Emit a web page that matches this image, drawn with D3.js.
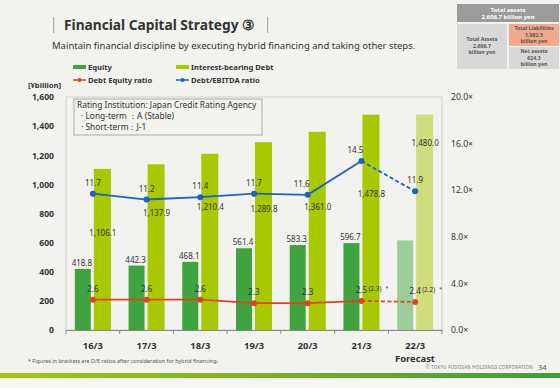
<!DOCTYPE html>
<html>
<head>
<meta charset="utf-8">
<script src="https://cdn.jsdelivr.net/npm/d3@7"></script>
<style>
body { margin: 0; background: #f2f2ee; }
svg { display: block; font-family: "Noto Sans", sans-serif; }
</style>
</head>
<body>
<script>
var categories = ["16/3", "17/3", "18/3", "19/3", "20/3", "21/3", "22/3"];
var equity = [418.8, 442.3, 468.1, 561.4, 583.3, 596.7, 615];
var debt = [1106.1, 1137.9, 1210.4, 1289.8, 1361.0, 1478.8, 1480.0];
var deRatio = [2.6, 2.6, 2.6, 2.3, 2.3, 2.5, 2.4];
var deHybrid = [null, null, null, null, null, 2.3, 2.2];
var ebitdaRatio = [11.7, 11.2, 11.4, 11.7, 11.6, 14.5, 11.9];
var leftTicks = [0, 200, 400, 600, 800, 1000, 1200, 1400, 1600];
var rightTicks = [0, 4, 8, 12, 16, 20];
// where the debt labels sit, in axis units (hand placed in the original)
var debtLabelAt = [665, 802, 843, 829, 843, 932, 1282];

var W = 560, H = 388;
var svg = d3.select("body").append("svg").attr("width", W).attr("height", H);

svg.append("rect").attr("width", W).attr("height", H).attr("fill", "#f2f2ee");
svg.append("rect").attr("y", 378).attr("width", W).attr("height", 10).attr("fill", "#f6f6f3");

// title
svg.append("rect").attr("x", 53).attr("y", 17).attr("width", 1.2).attr("height", 16).attr("fill", "#aaa");
svg.append("rect").attr("x", 267).attr("y", 17).attr("width", 1.2).attr("height", 16).attr("fill", "#aaa");
svg.append("text").attr("x", 64).attr("y", 30).attr("fill", "#333").attr("font-size", 13.8)
  .attr("font-weight", "bold").attr("textLength", 191).attr("lengthAdjust", "spacingAndGlyphs")
  .text("Financial Capital Strategy ③");
svg.append("text").attr("x", 52).attr("y", 49).attr("fill", "#333").attr("font-size", 9.5)
  .text("Maintain financial discipline by executing hybrid financing and taking other steps.");

// balance sheet box
var bs = svg.append("g").attr("font-size", 5.2).attr("font-weight", "bold").attr("text-anchor", "middle");
bs.append("rect").attr("x", 457).attr("y", 4).attr("width", 102).attr("height", 18).attr("fill", "#9b9b9b");
bs.append("text").attr("x", 508).attr("y", 11.5).attr("fill", "#fff").attr("font-size", 6).text("Total assets");
bs.append("text").attr("x", 508).attr("y", 19).attr("fill", "#fff").attr("font-size", 6).text("2,606.7 billion yen");
bs.append("rect").attr("x", 457).attr("y", 24).attr("width", 50).attr("height", 45).attr("fill", "#d8d8d8");
bs.append("rect").attr("x", 509).attr("y", 24).attr("width", 50).attr("height", 22).attr("fill", "#f4a98c");
bs.append("rect").attr("x", 509).attr("y", 47).attr("width", 50).attr("height", 22).attr("fill", "#d8d8d8");
[["Total Assets", "2,606.7", "billion yen", 482, 41], ["Total Liabilities", "1,982.5", "billion yen", 534, 30],
 ["Net assets", "624.3", "billion yen", 534, 53]].forEach(function(t) {
  [0, 1, 2].forEach(function(k) {
    bs.append("text").attr("x", t[3]).attr("y", t[4] + k * 6.5).attr("fill", "#555").text(t[k]);
  });
});

// legend
var lg = svg.append("g").attr("font-size", 7.6).attr("font-weight", "bold").attr("fill", "#333");
lg.append("rect").attr("x", 73).attr("y", 65).attr("width", 13).attr("height", 4).attr("fill", "#3fa33f");
lg.append("text").attr("x", 88).attr("y", 70).text("Equity");
lg.append("rect").attr("x", 176).attr("y", 65).attr("width", 13).attr("height", 4).attr("fill", "#a8c800");
lg.append("text").attr("x", 191).attr("y", 70).text("Interest-bearing Debt");
lg.append("line").attr("x1", 73).attr("x2", 86).attr("y1", 80).attr("y2", 80).attr("stroke", "#e2431c").attr("stroke-width", 1.5);
lg.append("circle").attr("cx", 79.5).attr("cy", 80).attr("r", 2).attr("fill", "#e2431c");
lg.append("text").attr("x", 88).attr("y", 83).text("Debt Equity ratio");
lg.append("line").attr("x1", 176).attr("x2", 189).attr("y1", 80).attr("y2", 80).attr("stroke", "#1a62c4").attr("stroke-width", 1.5);
lg.append("circle").attr("cx", 182.5).attr("cy", 80).attr("r", 2).attr("fill", "#1a62c4");
lg.append("text").attr("x", 191).attr("y", 83).text("Debt/EBITDA ratio");

// scales
var x = d3.scaleBand().domain(categories).range([66, 442]);
var y = d3.scaleLinear().domain([0, 1600]).range([330, 97]);
var y2 = d3.scaleLinear().domain([0, 20]).range([330, 97]);
var cx = function(i) { return x(categories[i]) + x.bandwidth() / 2; };
var last = categories.length - 1;

// frame
svg.append("rect").attr("x", 66).attr("y", 97).attr("width", 376).attr("height", 233)
  .attr("fill", "none").attr("stroke", "#cfcfcb").attr("stroke-width", 1);

// axes
var leftAxis = svg.append("g").attr("transform", "translate(66,0)")
  .call(d3.axisLeft(y).tickValues(leftTicks).tickSize(0).tickPadding(12).tickFormat(d3.format(",")));
leftAxis.select(".domain").remove();
leftAxis.selectAll("text").attr("font-size", 8.6).attr("font-weight", "bold").attr("fill", "#333")
  .attr("font-family", "Noto Sans");

var rightAxis = svg.append("g").attr("transform", "translate(442,0)")
  .call(d3.axisRight(y2).tickValues(rightTicks).tickSize(0).tickPadding(9)
    .tickFormat(function(d) { return d3.format(".1f")(d) + "×"; }));
rightAxis.select(".domain").remove();
rightAxis.selectAll("text").attr("font-size", 8.6).attr("fill", "#333").attr("font-family", "Noto Sans");

var bottomAxis = svg.append("g").attr("transform", "translate(0,330)")
  .call(d3.axisBottom(x).tickSize(0).tickPadding(12));
bottomAxis.select(".domain").attr("stroke", "#888");
bottomAxis.selectAll("text").attr("font-size", 9.4).attr("font-weight", "bold").attr("fill", "#333")
  .attr("font-family", "Noto Sans");
svg.append("g").selectAll("line").data(categories).enter().append("line")
  .attr("x1", function(d) { return x(d); }).attr("x2", function(d) { return x(d); })
  .attr("y1", 330).attr("y2", 334).attr("stroke", "#888");
svg.append("line").attr("x1", 442).attr("x2", 442).attr("y1", 330).attr("y2", 334).attr("stroke", "#888");

svg.append("text").attr("x", 28).attr("y", 88).attr("font-size", 7.6).attr("font-weight", "bold")
  .attr("fill", "#333").text("[¥billion]");
svg.append("text").attr("x", 415).attr("y", 362).attr("text-anchor", "middle").attr("font-size", 9.4)
  .attr("font-weight", "bold").attr("fill", "#333").text("Forecast");

// rating box
svg.append("rect").attr("x", 74).attr("y", 99).attr("width", 188).attr("height", 36)
  .attr("fill", "#f2f2ee").attr("stroke", "#999").attr("stroke-width", 0.8);
var rt = svg.append("g").attr("font-size", 8.4).attr("fill", "#333");
rt.append("text").attr("x", 77).attr("y", 108).text("Rating Institution: Japan Credit Rating Agency");
rt.append("text").attr("x", 81).attr("y", 119).text("· Long-term ：A (Stable)");
rt.append("text").attr("x", 81).attr("y", 130).text("· Short-term：J-1");

// bars
svg.append("g").selectAll("rect").data(equity).enter().append("rect")
  .attr("x", function(d, i) { return cx(i) - 18; })
  .attr("y", function(d) { return y(d); })
  .attr("width", 16)
  .attr("height", function(d) { return y(0) - y(d); })
  .attr("fill", function(d, i) { return i === last ? "#9dcd98" : "#3fa33f"; });

svg.append("g").selectAll("rect").data(debt).enter().append("rect")
  .attr("x", function(d, i) { return cx(i) + 1; })
  .attr("y", function(d) { return y(d); })
  .attr("width", 17)
  .attr("height", function(d) { return y(0) - y(d); })
  .attr("fill", function(d, i) { return i === last ? "#cfdd7c" : "#a8c800"; });

// lines
function drawLine(values, scale, color) {
  var solid = d3.line().x(function(d) { return cx(d.i); }).y(function(d) { return scale(d.v); });
  var pts = values.map(function(v, i) { return { v: v, i: i }; });
  svg.append("path").attr("d", solid(pts.slice(0, last))).attr("fill", "none")
    .attr("stroke", color).attr("stroke-width", 1.8);
  svg.append("path").attr("d", solid(pts.slice(last - 1))).attr("fill", "none")
    .attr("stroke", color).attr("stroke-width", 1.8).attr("stroke-dasharray", "4,2.5");
  svg.append("g").selectAll("circle").data(pts).enter().append("circle")
    .attr("cx", function(d) { return cx(d.i); }).attr("cy", function(d) { return scale(d.v); })
    .attr("r", 3).attr("fill", color);
}
drawLine(deRatio, y2, "#e2431c");
drawLine(ebitdaRatio, y2, "#1a62c4");

// labels
var lab = svg.append("g").attr("font-size", 8).attr("fill", "#333").attr("text-anchor", "middle");
equity.forEach(function(d, i) {
  if (i === last) return;
  lab.append("text").attr("x", cx(i) - 11).attr("y", y(d) - 3).text(d3.format(",.1f")(d));
});
debt.forEach(function(d, i) {
  lab.append("text").attr("x", cx(i) + 10).attr("y", y(debtLabelAt[i]) + 3).text(d3.format(",.1f")(d));
});
ebitdaRatio.forEach(function(d, i) {
  var dx = (i === 4 || i === 5) ? -6 : 0;
  lab.append("text").attr("x", cx(i) + dx).attr("y", y2(d) - 8).text(d3.format(".1f")(d));
});
deRatio.forEach(function(d, i) {
  lab.append("text").attr("x", cx(i)).attr("y", y2(d) - 8).text(d3.format(".1f")(d));
  if (deHybrid[i] != null) {
    svg.append("text").attr("x", cx(i) + 7).attr("y", y2(d) - 10).attr("font-size", 6.5).attr("fill", "#333")
      .text("(" + d3.format(".1f")(deHybrid[i]) + ")");
    svg.append("text").attr("x", cx(i) + 24).attr("y", y2(d) - 11).attr("font-size", 5.5).attr("fill", "#333").text("*");
  }
});

// footer
svg.append("text").attr("x", 28).attr("y", 363).attr("font-size", 5.4).attr("fill", "#555")
  .text("* Figures in brackets are D/E ratios after consideration for hybrid financing.");
svg.append("text").attr("x", 533).attr("y", 369).attr("text-anchor", "end").attr("font-size", 4.4)
  .attr("fill", "#777").attr("letter-spacing", 0.3).text("© TOKYU FUDOSAN HOLDINGS CORPORATION");
svg.append("text").attr("x", 538).attr("y", 370).attr("font-size", 7.5).attr("fill", "#555").text("34");

var grad = svg.append("defs").append("linearGradient").attr("id", "foot");
grad.append("stop").attr("offset", "0%").attr("stop-color", "#a6c80a");
grad.append("stop").attr("offset", "100%").attr("stop-color", "#3e9e3a");
svg.append("rect").attr("x", 0).attr("y", 373).attr("width", W).attr("height", 5).attr("fill", "url(#foot)");
</script>
</body>
</html>
